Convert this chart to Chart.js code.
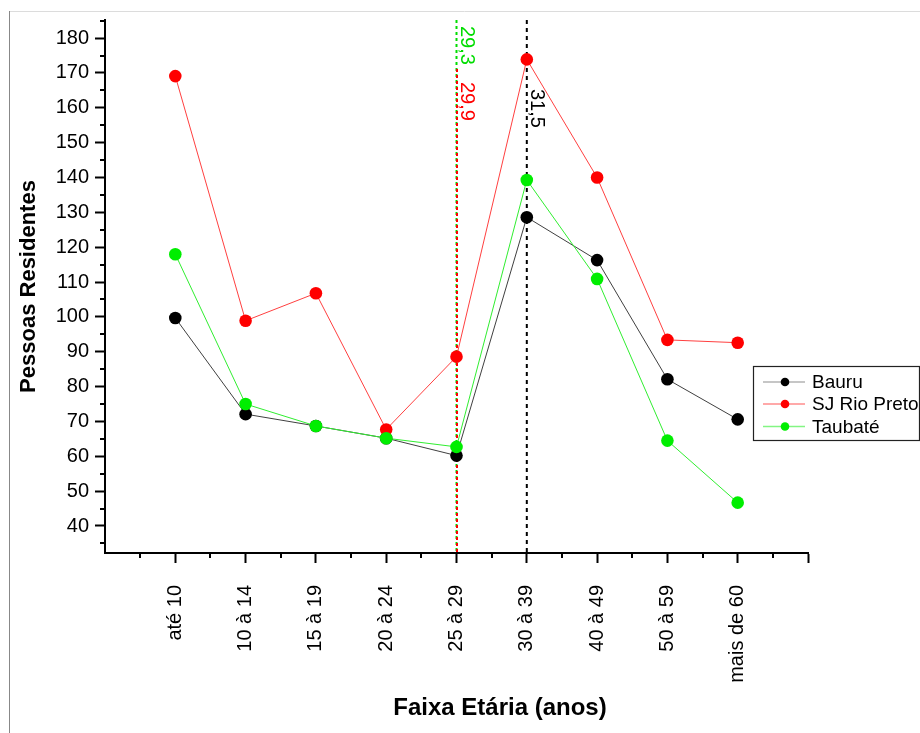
<!DOCTYPE html>
<html><head><meta charset="utf-8">
<script src="https://cdn.jsdelivr.net/npm/chart.js@4.4.0/dist/chart.umd.min.js"></script>
<style>html,body{margin:0;padding:0;background:#fff}#wrap{width:920px;height:733px;position:relative}</style>
</head><body><div id="wrap"><canvas id="c" width="920" height="733"></canvas></div>
<script>
// ---- data ----
const ageGroups = ['até 10','10 à 14','15 à 19','20 à 24','25 à 29','30 à 39','40 à 49','50 à 59','mais de 60'];
const bauru = [99.7, 72.1, 68.7, 65.2, 60.2, 128.6, 116.3, 82.1, 70.6];
const sjRioPreto = [169.1, 98.9, 106.8, 67.7, 88.6, 173.9, 140.0, 93.4, 92.6];
const taubate = [118.0, 75.0, 68.7, 65.2, 62.7, 139.3, 110.9, 64.5, 46.7];
const seriesNames = ['Bauru', 'SJ Rio Preto', 'Taubaté'];
const yTickValues = [40, 50, 60, 70, 80, 90, 100, 110, 120, 130, 140, 150, 160, 170, 180];
const meanLabels = ['29,3', '29,9', '31,5'];
const meanCategory = [5, 5, 6];          // category position (1-based)
const meanLineTop = [185.2, 172, 185.2]; // value where each mean line starts
const xTitle = 'Faixa Etária (anos)';
const yTitle = 'Pessoas Residentes';

const FONT = "'Liberation Sans', Arial, sans-serif";
const colors = {
  line: ['#404040', '#ff4040', '#30ee30'],
  point: ['#000000', '#ff0000', '#00ee00'],
  mean: ['#00dd00', '#ff0000', '#000000']
};

const toPts = arr => arr.map((v, i) => ({x: i + 1, y: v}));
const seriesData = [bauru, sjRioPreto, taubate];

const datasets = seriesData.map((d, i) => ({
  label: seriesNames[i],
  data: toPts(d),
  borderColor: colors.line[i],
  backgroundColor: colors.point[i],
  pointBackgroundColor: colors.point[i],
  pointBorderColor: colors.point[i],
  pointBorderWidth: 0,
  pointRadius: 6.3,
  borderWidth: 1,
  order: 3 - i,
  tension: 0
}));

const decorPlugin = {
  id: 'decor',
  beforeDraw(chart) {
    const ctx = chart.ctx;
    ctx.save();
    ctx.fillStyle = '#fff';
    ctx.fillRect(0, 0, chart.width, chart.height);
    ctx.strokeStyle = '#dcdcdc';
    ctx.lineWidth = 1;
    ctx.beginPath(); ctx.moveTo(9, 11.5); ctx.lineTo(chart.width, 11.5); ctx.stroke();
    ctx.strokeStyle = '#888';
    ctx.beginPath(); ctx.moveTo(9.5, 11); ctx.lineTo(9.5, chart.height); ctx.stroke();
    ctx.restore();
  },
  beforeDatasetsDraw(chart) {
    const ctx = chart.ctx, xs = chart.scales.x, ys = chart.scales.y;
    const bottom = chart.chartArea.bottom;
    ctx.save();
    meanCategory.forEach((c, i) => {
      const x = xs.getPixelForValue(c) + (i === 1 ? 0.5 : 0);
      ctx.strokeStyle = colors.mean[i];
      ctx.lineWidth = 2;
      ctx.setLineDash(i === 2 ? [4, 4] : [3, 3]);
      ctx.lineDashOffset = i === 1 ? 3 : 0;
      ctx.beginPath();
      ctx.moveTo(x, ys.getPixelForValue(meanLineTop[i]));
      ctx.lineTo(x, bottom);
      ctx.stroke();
    });
    ctx.restore();
    // labels
    ctx.save();
    ctx.font = '20px ' + FONT;
    ctx.textAlign = 'left';
    ctx.textBaseline = 'alphabetic';
    const labelTop = [26, 82, 89];
    meanCategory.forEach((c, i) => {
      const x = xs.getPixelForValue(c) + 4.5;
      ctx.save();
      ctx.translate(x, labelTop[i]);
      ctx.rotate(Math.PI / 2);
      ctx.fillStyle = colors.mean[i];
      ctx.fillText(meanLabels[i], 0, 0);
      ctx.restore();
    });
    ctx.restore();
  },
  afterDraw(chart) {
    const ctx = chart.ctx, xs = chart.scales.x, ys = chart.scales.y;
    const {left, bottom} = chart.chartArea;
    ctx.save();
    ctx.strokeStyle = '#000';
    ctx.lineWidth = 2;
    // minor ticks
    ctx.beginPath();
    for (let v = 35; v <= 185; v += 10) {
      const y = Math.round(ys.getPixelForValue(v));
      ctx.moveTo(left - 5, y); ctx.lineTo(left, y);
    }
    for (let v = 0.5; v < 10; v += 1) {
      const x = Math.round(xs.getPixelForValue(v));
      ctx.moveTo(x, bottom); ctx.lineTo(x, bottom + 5);
    }
    ctx.stroke();
    // axis titles
    ctx.fillStyle = '#000';
    ctx.font = 'bold 24px ' + FONT;
    ctx.textAlign = 'center';
    ctx.textBaseline = 'alphabetic';
    ctx.fillText(xTitle, 500, 715);
    ctx.save();
    ctx.translate(35, (chart.chartArea.top + bottom) / 2);
    ctx.rotate(-Math.PI / 2);
    ctx.font = 'bold 22px ' + FONT;
    ctx.fillText(yTitle, 0, 0);
    ctx.restore();
    // legend
    const bx = 753.5, by = 366.5, bw = 166, bh = 74;
    ctx.strokeStyle = '#222';
    ctx.lineWidth = 1.2;
    ctx.strokeRect(bx, by, bw, bh);
    const rows = [382, 404, 426.5];
    chart.data.datasets.forEach((ds, i) => {
      const y = rows[i];
      ctx.save();
      ctx.globalAlpha = 0.6;
      ctx.strokeStyle = i === 0 ? '#808080' : ds.borderColor;
      ctx.lineWidth = 1.5;
      ctx.beginPath(); ctx.moveTo(763, y); ctx.lineTo(805, y); ctx.stroke();
      ctx.restore();
      ctx.fillStyle = ds.pointBackgroundColor;
      ctx.beginPath(); ctx.arc(785, y, 4.3, 0, Math.PI * 2); ctx.fill();
      ctx.fillStyle = '#000';
      ctx.font = '19px ' + FONT;
      ctx.textAlign = 'left';
      ctx.textBaseline = 'middle';
      ctx.fillText(ds.label, 812, y + 1);
    });
    ctx.restore();
  }
};

new Chart(document.getElementById('c'), {
  type: 'line',
  data: {datasets},
  options: {
    responsive: false,
    animation: false,
    devicePixelRatio: 1,
    layout: {padding: {left: 0, right: 112, top: 20, bottom: 0}},
    plugins: {legend: {display: false}, tooltip: {enabled: false}},
    scales: {
      x: {
        type: 'linear',
        min: 0, max: 10,
        afterBuildTicks: s => { s.ticks = [1,2,3,4,5,6,7,8,9,10].map(v => ({value: v})); },
        afterFit: s => { s.height = 180; },
        ticks: {
          autoSkip: false, minRotation: 90, maxRotation: 90,
          padding: 22, color: '#000',
          font: {family: FONT, size: 20},
          callback: v => ageGroups[v - 1] ?? ''
        },
        grid: {display: true, drawOnChartArea: false, drawTicks: true, tickLength: 10, tickWidth: 2, tickColor: '#000'},
        border: {display: true, color: '#000', width: 2}
      },
      y: {
        type: 'linear',
        min: 32.25, max: 185.2,
        afterBuildTicks: s => { s.ticks = yTickValues.map(v => ({value: v})); },
        afterFit: s => { s.width = 105; },
        ticks: {
          padding: 6, color: '#000',
          font: {family: FONT, size: 20},
          callback: v => String(v)
        },
        grid: {display: true, drawOnChartArea: false, drawTicks: true, tickLength: 10, tickWidth: 2, tickColor: '#000'},
        border: {display: true, color: '#000', width: 2}
      }
    }
  },
  plugins: [decorPlugin]
});
</script>
</body></html>
